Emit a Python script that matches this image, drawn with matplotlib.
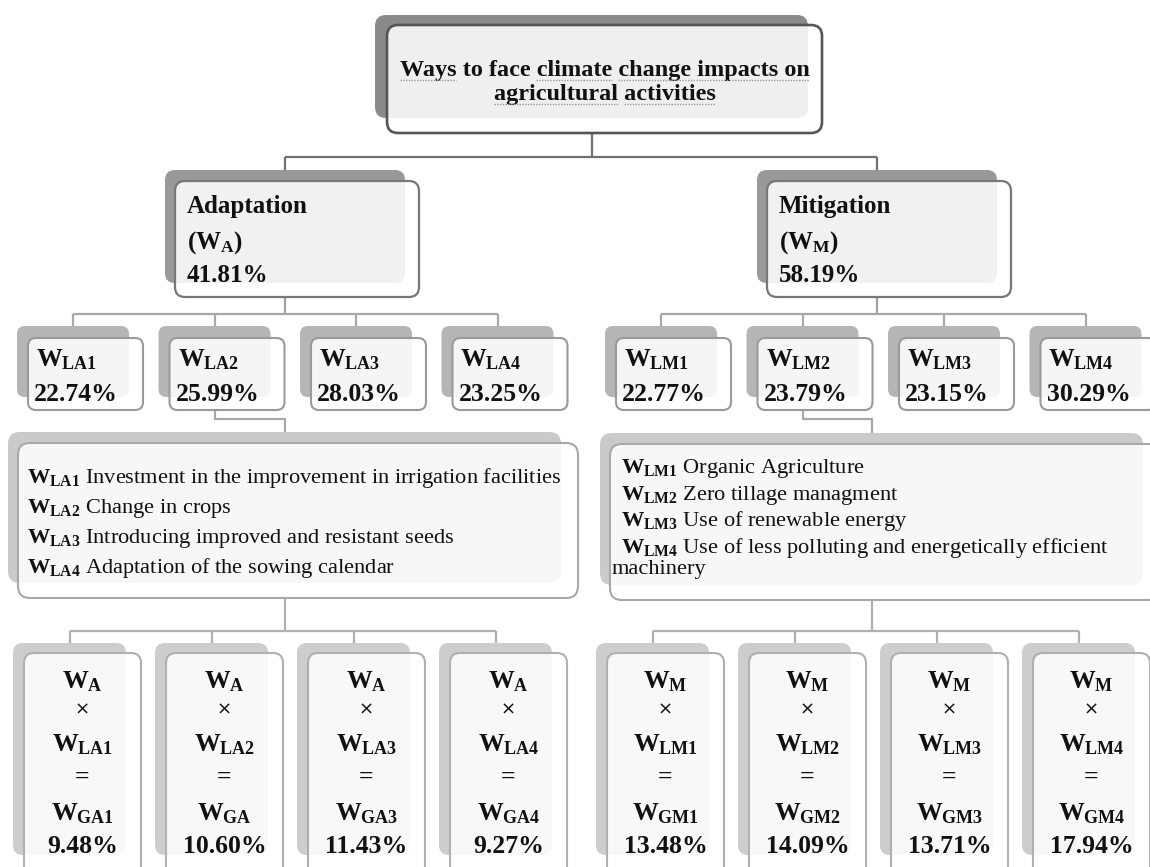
import matplotlib.pyplot as plt
from matplotlib.patches import FancyBboxPatch

plt.rcParams['font.family'] = ['Liberation Serif', 'DejaVu Sans']
plt.rcParams['mathtext.fontset'] = 'custom'
plt.rcParams['mathtext.rm'] = 'Liberation Serif'
plt.rcParams['mathtext.bf'] = 'Liberation Serif:bold'
plt.rcParams['mathtext.it'] = 'Liberation Serif:italic'

# ---- content of the diagram ----
title_lines = ['Ways to face climate change impacts on', 'agricultural activities']
title_marked = [['Ways', 'climate', 'change impacts on'], ['agricultural', 'activities']]

groups = ['Adaptation', 'Mitigation']
group_sym = ['A', 'M']
group_weights = ['41.81%', '58.19%']

local_codes = [['LA1', 'LA2', 'LA3', 'LA4'], ['LM1', 'LM2', 'LM3', 'LM4']]
local_weights = [['22.74%', '25.99%', '28.03%', '23.25%'],
                 ['22.77%', '23.79%', '23.15%', '30.29%']]

desc_left = ['Investment in the improvement in irrigation facilities',
             'Change in crops',
             'Introducing improved and resistant seeds',
             'Adaptation of the sowing calendar']
desc_right = ['Organic Agriculture',
              'Zero tillage managment',
              'Use of renewable energy',
              'Use of less polluting and energetically efficient\nmachinery']

global_codes = [['GA1', 'GA', 'GA3', 'GA4'], ['GM1', 'GM2', 'GM3', 'GM4']]
global_weights = [['9.48%', '10.60%', '11.43%', '9.27%'],
                  ['13.48%', '14.09%', '13.71%', '17.94%']]

W, H = 1150, 867
fig = plt.figure(figsize=(W / 100, H / 100), dpi=100)
ax = fig.add_axes([0, 0, 1, 1])
ax.set_xlim(0, W)
ax.set_ylim(H, 0)
ax.axis('off')

BIG = 18
DESC = 16.1


def card(x, y, w, h, shade, edge, lw=1.5, r=9, dx=11, dy=11, dw=3, dh=3):
    ax.add_patch(FancyBboxPatch((x - dx, y - dy), w - dw, h - dh,
                                boxstyle=f'round,pad=0,rounding_size={r}',
                                fc=shade, ec='none', zorder=1))
    ax.add_patch(FancyBboxPatch((x, y), w, h,
                                boxstyle=f'round,pad=0,rounding_size={r}',
                                fc=(1, 1, 1, 0.87), ec=edge, lw=lw, zorder=2))
    return x - dx + (w - dw) / 2  # centre of the back shape, where lines attach


def wire(xs, ys, color, lw=1.6):
    ax.plot(xs, ys, color=color, lw=lw, solid_capstyle='butt', zorder=0)


def bold(s, x, y, ha='left', size=BIG, va='baseline'):
    return ax.text(x, y, s, fontsize=size, fontweight='bold', ha=ha, va=va,
                   color='#111111', zorder=3)


# ---- top box ----
top_c = card(387, 25, 435, 108, '#8a8a8a', '#555555', lw=1.9, r=11, dx=12, dy=10, dw=2, dh=5)
for k, line in enumerate(title_lines):
    bold(line, 604.5, 76 + 24 * k, ha='center', size=17.5)

# ---- level 2 ----
lvl2_x = [175, 767]
lvl2_c = []
wire([top_c, top_c], [133, 157], '#707070')
for i, g in enumerate(groups):
    c = card(lvl2_x[i], 181, 244, 116, '#999999', '#777777', lw=1.6, r=10, dx=10, dy=11, dw=4, dh=3)
    lvl2_c.append(c)
    wire([c, c], [157, 170], '#707070')
    bold(g, lvl2_x[i] + 12, 213)
    bold(r'$\mathbf{(W_{%s})}$' % group_sym[i], lvl2_x[i] + 12, 249)
    bold(group_weights[i], lvl2_x[i] + 12, 282)
wire([lvl2_c[0], lvl2_c[1]], [157, 157], '#707070')

# ---- level 3 ----
lvl3_x0 = [28, 616]
lvl3_centers = []
for i in range(2):
    cs = []
    for j, code in enumerate(local_codes[i]):
        x = lvl3_x0[i] + 141.5 * j
        c = card(x, 338, 115, 72, '#b5b5b5', '#9a9a9a', lw=1.5, r=8, dx=11, dy=12, dw=3, dh=1)
        cs.append(c)
        wire([c, c], [314, 326], '#a8a8a8')
        bold(r'$\mathbf{W_{%s}}$' % code, x + 8, 366, size=18.5)
        bold(local_weights[i][j], x + 6, 401, size=18.5)
    wire([lvl2_c[i], lvl2_c[i]], [297, 314], '#a0a0a0')
    wire([cs[0], cs[-1]], [314, 314], '#a8a8a8')
    lvl3_centers.append(cs)

# ---- description boxes ----
desc_boxes = [(18, 443, 560, 155), (610, 444, 550, 156)]
desc_c = []
for i, (x, y, w, h) in enumerate(desc_boxes):
    c = card(x, y, w, h, '#cacaca', '#a8a8a8', lw=1.5, r=12, dx=10, dy=11, dw=7, dh=4)
    desc_c.append(c)
    src = lvl3_centers[i][1]
    wire([src, src, c, c], [410, 419, 419, y - 11], '#a8a8a8')

for k, s in enumerate(desc_left):
    ax.text(27, 483 + 30 * k, r'$\mathbf{W_{%s}}$ %s' % (local_codes[0][k], s),
            fontsize=DESC, ha='left', va='baseline', color='#111111', zorder=3)

right_base = [473, 500, 526, 553]
for k, s in enumerate(desc_right):
    parts = s.split('\n')
    ax.text(621, right_base[k], r'$\mathbf{W_{%s}}$ %s' % (local_codes[1][k], parts[0]),
            fontsize=DESC, ha='left', va='baseline', color='#111111', zorder=3)
    for extra in parts[1:]:
        ax.text(612, right_base[k] + 21, extra,
                fontsize=DESC, ha='left', va='baseline', color='#111111', zorder=3)

# ---- bottom level ----
bot_x0 = [24, 607]
for i in range(2):
    cs = []
    for j, code in enumerate(global_codes[i]):
        x = bot_x0[i] + 142 * j
        c = card(x, 653, 117, 230, '#cdcdcd', '#b0b0b0', lw=1.5, r=10, dx=11, dy=10, dw=4, dh=18)
        cs.append(c)
        wire([c, c], [631, 643], '#b0b0b0')
        cx = x + 58.5
        bold(r'$\mathbf{W_{%s}}$' % group_sym[i], cx, 688, ha='center', size=18.5)
        ax.text(cx, 710, '×', fontsize=13, family='DejaVu Sans', ha='center', va='center',
                color='#111111', zorder=3)
        bold(r'$\mathbf{W_{%s}}$' % local_codes[i][j], cx, 751, ha='center', size=18.5)
        bold('=', cx, 777, ha='center', va='center', size=18.5)
        bold(r'$\mathbf{W_{%s}}$' % code, cx, 820, ha='center', size=18.5)
        bold(global_weights[i][j], cx, 853, ha='center', size=18.5)
    bottom = desc_boxes[i][1] + desc_boxes[i][3]
    wire([desc_c[i], desc_c[i]], [bottom, 631], '#b0b0b0')
    wire([cs[0], cs[-1]], [631, 631], '#b0b0b0')

# ---- dotted spell-check marks under the title words ----
fig.canvas.draw()
rend = fig.canvas.get_renderer()


def width(s):
    t = ax.text(0, 0, s, fontsize=17.5, fontweight='bold')
    w = t.get_window_extent(rend).width
    t.remove()
    return w


for k, line in enumerate(title_lines):
    left = 604.5 - width(line) / 2
    for seg in title_marked[k]:
        i = line.index(seg)
        end = left + width(line[:i + len(seg)])
        start = end - width(seg)
        ax.plot([start, end], [76 + 24 * k + 3.5] * 2, color='#9a9a9a', lw=1.0,
                ls=(0, (1, 1)), zorder=3)

fig.savefig('out.png', dpi=100)
